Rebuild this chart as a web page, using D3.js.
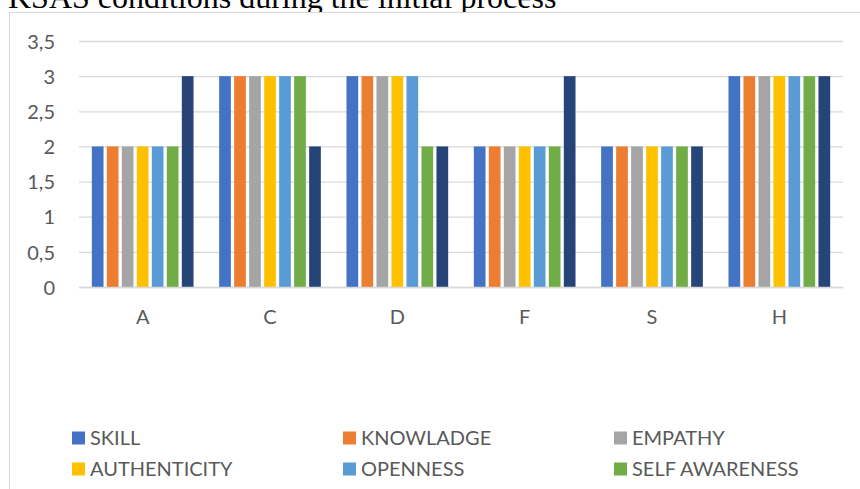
<!DOCTYPE html>
<html>
<head>
<meta charset="utf-8">
<script src="https://cdn.jsdelivr.net/npm/d3@7"></script>
<style>
	body { margin: 0; background: #fff; }
	svg { display: block; }
	.axis text { font-family: Lato, 'Open Sans', sans-serif; font-size: 20px; fill: #595959; }
</style>
</head>
<body>
<div id="chart"></div>
<script>
// KSAS chart

var categories = ['A', 'C', 'D', 'F', 'S', 'H'];
var seriesNames = ['SKILL', 'KNOWLADGE', 'EMPATHY', 'AUTHENTICITY', 'OPENNESS', 'SELF AWARENESS', 'SERIES 7'];
var seriesColors = ['#4472C4', '#ED7D31', '#A5A5A5', '#FFC000', '#5B9BD5', '#70AD47', '#264478'];

var skill         = [2, 3, 3, 2, 2, 3];
var knowladge     = [2, 3, 3, 2, 2, 3];
var empathy       = [2, 3, 3, 2, 2, 3];
var authenticity  = [2, 3, 3, 2, 2, 3];
var openness      = [2, 3, 3, 2, 2, 3];
var selfAwareness = [2, 3, 2, 2, 2, 3];
var series7       = [3, 2, 2, 3, 2, 3];

var yTicks = [0, 0.5, 1, 1.5, 2, 2.5, 3, 3.5];

var width = 860,
	height = 489,
	margin = { top: 41, bottom: 202, left: 79, right: 17 },
	drawWidth = width - margin.left - margin.right,
	drawHeight = height - margin.top - margin.bottom;

var values = [skill, knowladge, empathy, authenticity, openness, selfAwareness, series7];

// rows for the grouped bars
var data = categories.map(function(c, i) {
	return {
		cat: c,
		bars: seriesNames.map(function(s, j) { return { key: s, value: values[j][i] }; })
	};
});

var svg = d3.select('#chart').append('svg')
	.attr('width', width)
	.attr('height', height);

// title, partly hidden behind the chart box
svg.append('text')
	.attr('x', 8)
	.attr('y', 8)
	.attr('font-family', "'Liberation Serif', 'Times New Roman', serif")
	.attr('font-size', 32)
	.attr('fill', '#000')
	.text('KSAS conditions during the initial process');

svg.append('rect')
	.attr('x', 9.5)
	.attr('y', 12.5)
	.attr('width', 900)
	.attr('height', 500)
	.attr('fill', '#fff')
	.attr('stroke', '#d9d9d9')
	.attr('stroke-width', 1);

var g = svg.append('g')
	.attr('transform', 'translate(' + margin.left + ',' + margin.top + ')');

var x0 = d3.scaleBand()
	.domain(categories)
	.range([0, drawWidth])
	.padding(0);

var x1 = d3.scaleBand()
	.domain(seriesNames)
	.range([0, x0.bandwidth()])
	.paddingInner(0.22)
	.paddingOuter(0.855);

var yScale = d3.scaleLinear()
	.domain([0, 3.5])
	.range([drawHeight, 0]);

var color = d3.scaleOrdinal()
	.domain(seriesNames)
	.range(seriesColors);

var fmt = function(d) { return String(d).replace('.', ','); };

// gridlines
var grid = g.append('g')
	.call(d3.axisLeft(yScale).tickValues(yTicks).tickSize(-drawWidth).tickFormat(''));
grid.select('.domain').remove();
grid.selectAll('line')
	.attr('stroke', '#d9d9d9')
	.attr('stroke-width', 1.3);

// y labels
var yAxis = g.append('g')
	.attr('class', 'axis')
	.call(d3.axisLeft(yScale).tickValues(yTicks).tickSize(0).tickPadding(24).tickFormat(fmt));
yAxis.select('.domain').remove();
yAxis.selectAll('text').attr('dy', '0.36em');

// bars
var groups = g.selectAll('.group')
	.data(data)
	.enter().append('g')
	.attr('class', 'group')
	.attr('transform', function(d) { return 'translate(' + x0(d.cat) + ',0)'; });

groups.selectAll('rect')
	.data(function(d) { return d.bars; })
	.enter().append('rect')
	.attr('x', function(d) { return x1(d.key); })
	.attr('y', function(d) { return yScale(d.value); })
	.attr('width', x1.bandwidth())
	.attr('height', function(d) { return drawHeight - yScale(d.value); })
	.attr('fill', function(d) { return color(d.key); });

// x axis line and labels
var xAxis = g.append('g')
	.attr('class', 'axis')
	.attr('transform', 'translate(0,' + drawHeight + ')')
	.call(d3.axisBottom(x0).tickSize(0).tickPadding(23));
xAxis.select('.domain')
	.attr('stroke', '#d9d9d9')
	.attr('stroke-width', 1.3);

// legend, three per row (the 7th entry falls below the visible area in the original, so it is left out)
var legend = svg.append('g')
	.attr('class', 'axis')
	.selectAll('g')
	.data(seriesNames.slice(0, 6))
	.enter().append('g')
	.attr('transform', function(d, i) {
		return 'translate(' + (72 + (i % 3) * 271) + ',' + (438 + Math.floor(i / 3) * 31) + ')';
	});

legend.append('rect')
	.attr('x', 0)
	.attr('y', -6.5)
	.attr('width', 13)
	.attr('height', 13)
	.attr('fill', function(d) { return color(d); });

legend.append('text')
	.attr('x', 18)
	.attr('y', 0)
	.attr('dy', '0.36em')
	.text(function(d) { return d; });
</script>
</body>
</html>
